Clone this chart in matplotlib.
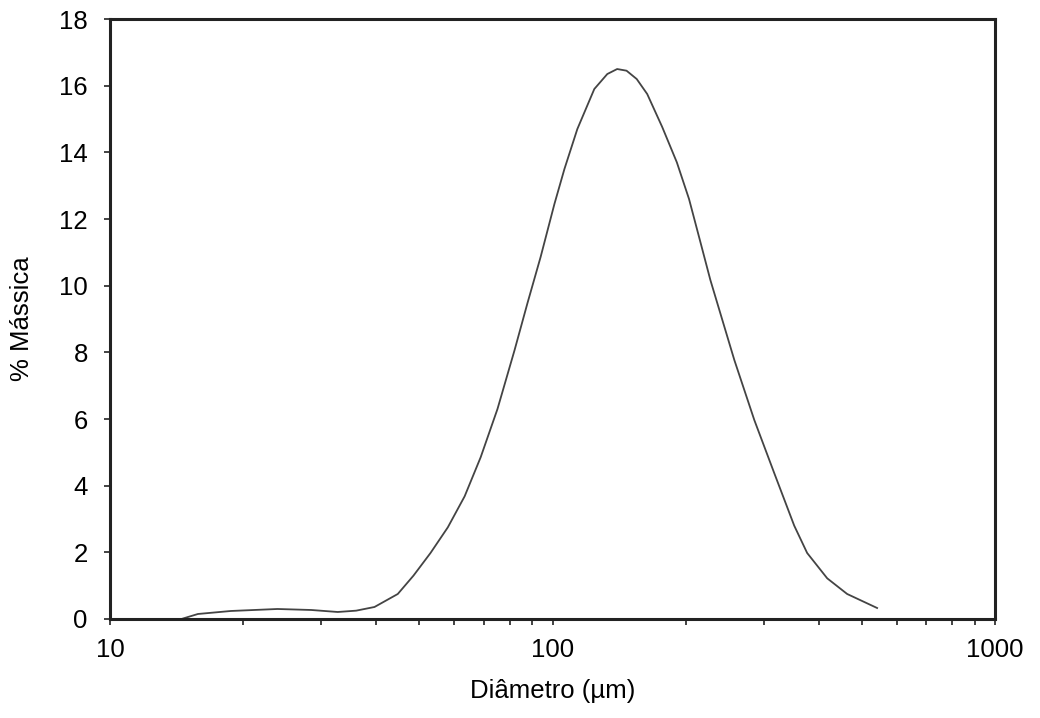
import matplotlib
matplotlib.use('Agg')
import matplotlib.pyplot as plt
from matplotlib.ticker import FixedLocator, NullFormatter, FuncFormatter

# Particle size distribution
diameter = [14.5, 15.8, 18.75, 23.9, 28.5, 32.7, 36.0, 39.6, 44.7, 48.5, 53.0,
            58.0, 63.3, 68.8, 75.1, 82.1, 87.8, 94.0, 101.0, 106.4, 113.8,
            124.3, 133.0, 140.0, 147.0, 155.0, 163.7, 177.0, 191.0, 203.5,
            215.0, 227.4, 257.6, 285.8, 317.0, 351.8, 376.3, 417.7, 463.4,
            541.5]
massica = [0.0, 0.15, 0.24, 0.30, 0.27, 0.21, 0.25, 0.36, 0.75, 1.3, 1.98,
           2.75, 3.68, 4.85, 6.3, 8.07, 9.48, 10.86, 12.45, 13.5, 14.7,
           15.9, 16.35, 16.5, 16.45, 16.2, 15.75, 14.76, 13.7, 12.6,
           11.4, 10.17, 7.77, 5.97, 4.38, 2.8, 1.98, 1.22, 0.75,
           0.33]

plt.rcParams['font.family'] = ['Liberation Sans', 'DejaVu Sans']

fig = plt.figure(figsize=(10.4, 7.18), dpi=100)
ax = fig.add_axes([0.1058, 0.1379, 0.8509, 0.8356])

ax.plot(diameter, massica, color='#444444', linewidth=1.3,
        solid_joinstyle='round')

ax.set_xscale('log')
ax.set_xlim(10, 1000)
ax.set_ylim(0, 18)
ax.set_yticks(range(0, 19, 2))
ax.xaxis.set_major_locator(FixedLocator([10, 100, 1000]))
ax.xaxis.set_major_formatter(FuncFormatter(lambda v, p: f'{v:g}'))
minors = [m * 10 ** e for e in (1, 2) for m in range(2, 10)]
ax.xaxis.set_minor_locator(FixedLocator(minors))
ax.xaxis.set_minor_formatter(NullFormatter())

for s in ax.spines.values():
    s.set_linewidth(2.2)
    s.set_color('#222222')

ax.tick_params(axis='both', which='major', direction='out', length=4,
               width=1.2, labelsize=18.5, color='#222222')
ax.tick_params(axis='x', which='major', pad=10)
ax.tick_params(axis='y', which='major', pad=12)
ax.tick_params(axis='x', which='minor', direction='out', length=4.5, width=1.2,
               color='#222222')

ax.set_xlabel('Diâmetro (µm)', fontsize=18.5, labelpad=12)
ax.set_ylabel('% Mássica', fontsize=18.5, labelpad=18)

fig.savefig('out.png', dpi=100)
